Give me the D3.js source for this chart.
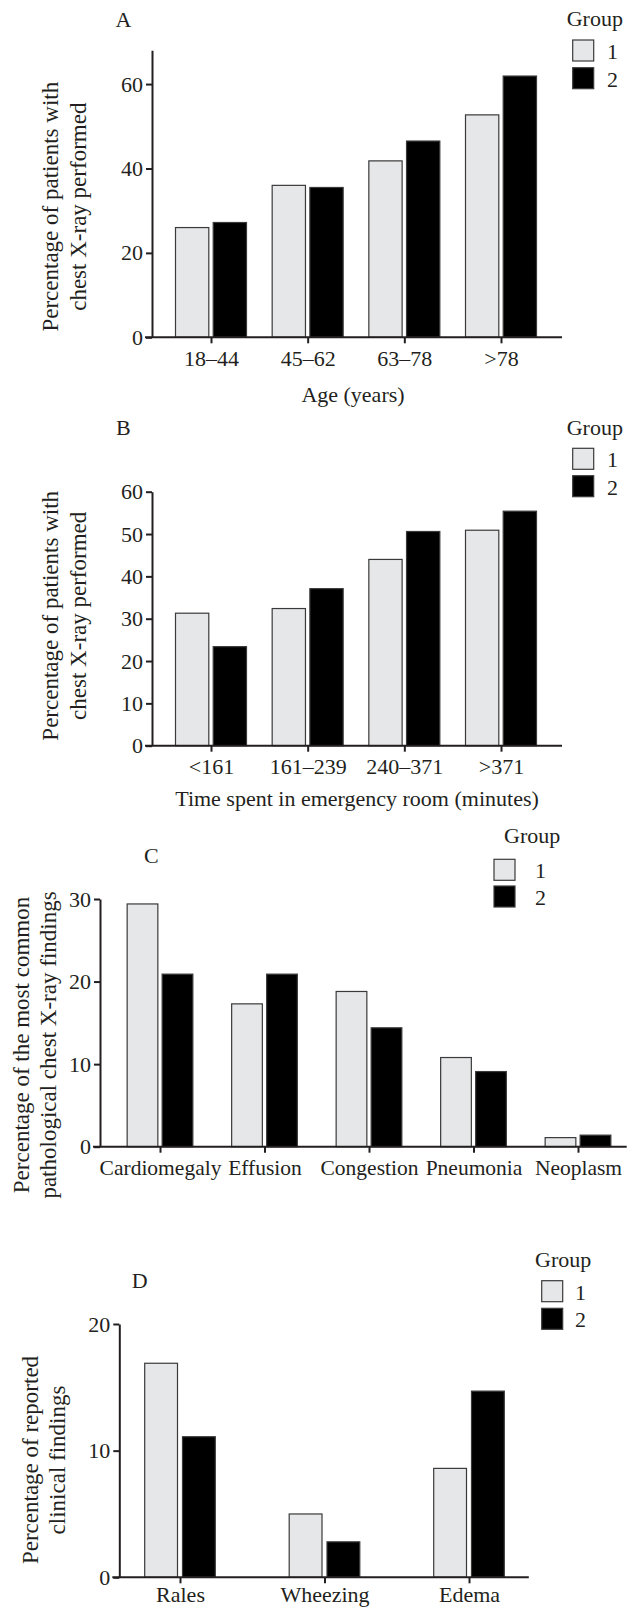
<!DOCTYPE html>
<html>
<head>
<meta charset="utf-8">
<script src="https://cdn.jsdelivr.net/npm/d3@7"></script>
<style>
  body { margin: 0; background: #fff; }
  svg text { font-family: "Liberation Serif", "Times New Roman", serif; fill: #231f20; }
</style>
</head>
<body>
<div id="chart"></div>
<script>
// Values
var groups = ["1", "2"];

var ageCategories = ["18–44", "45–62", "63–78", ">78"];
var ageGroup1 = [26.0, 36.0, 41.8, 52.7];
var ageGroup2 = [27.2, 35.5, 46.5, 61.9];
var ageTicks = [0, 20, 40, 60];

var timeCategories = ["<161", "161–239", "240–371", ">371"];
var timeGroup1 = [31.3, 32.4, 44.0, 50.9];
var timeGroup2 = [23.4, 37.1, 50.6, 55.4];
var timeTicks = [0, 10, 20, 30, 40, 50, 60];

var xrayCategories = ["Cardiomegaly", "Effusion", "Congestion", "Pneumonia", "Neoplasm"];
var xrayGroup1 = [29.4, 17.3, 18.8, 10.8, 1.1];
var xrayGroup2 = [20.9, 20.9, 14.4, 9.1, 1.4];
var xrayTicks = [0, 10, 20, 30];

var clinicalCategories = ["Rales", "Wheezing", "Edema"];
var clinicalGroup1 = [16.9, 5.0, 8.6];
var clinicalGroup2 = [11.1, 2.8, 14.7];
var clinicalTicks = [0, 10, 20];

var width = 644, height = 1608;

var color = d3.scaleOrdinal().domain(groups).range(["#e6e7e8", "#000000"]);

var svg = d3.select("#chart").append("svg")
    .attr("width", width)
    .attr("height", height)
    .style("display", "block");

var panels = [
  {
    letter: "A", cats: ageCategories, values: [ageGroup1, ageGroup2], ticks: ageTicks, yMax: 68,
    yTitle: ["Percentage of patients with", "chest X-ray performed"], xTitle: "Age (years)",
    axisX: 152, axisEnd: 562, baseY: 337.3, topY: 50.3, pointRange: [211, 501],
    barW: 33.3, barGap: 4.4, tickFont: 22, xPad: 7,
    letterPos: [115.5, 26.7],
    legend: {groupX: 566.7, groupY: 26, boxX: 572.7, boxY: 40, boxStep: 27.7, labelX: 607},
    yTitleX: [52, 80], yTitleY: 206.7, xTitlePos: [353, 401.7]
  },
  {
    letter: "B", cats: timeCategories, values: [timeGroup1, timeGroup2], ticks: timeTicks, yMax: 60,
    yTitle: ["Percentage of patients with", "chest X-ray performed"], xTitle: "Time spent in emergency room (minutes)",
    axisX: 152, axisEnd: 562, baseY: 745.7, topY: 491.7, pointRange: [211, 501],
    barW: 33.3, barGap: 4.4, tickFont: 22, xPad: 7,
    letterPos: [116, 435],
    legend: {groupX: 566.7, groupY: 435, boxX: 572.7, boxY: 448.3, boxStep: 27.4, labelX: 607},
    yTitleX: [52, 80], yTitleY: 615.8, xTitlePos: [357, 806]
  },
  {
    letter: "C", cats: xrayCategories, values: [xrayGroup1, xrayGroup2], ticks: xrayTicks, yMax: 30,
    yTitle: ["Percentage of the most common", "pathological chest X-ray findings"], xTitle: null,
    axisX: 100, axisEnd: 626.7, baseY: 1146.7, topY: 899, pointRange: [160, 578],
    barW: 30.7, barGap: 4.3, tickFont: 21.5, xPad: 7,
    letterPos: [144, 863.3],
    legend: {groupX: 504, groupY: 843.3, boxX: 494, boxY: 859.3, boxStep: 26.7, labelX: 535},
    yTitleX: [23, 50], yTitleY: 1045, xTitlePos: null
  },
  {
    letter: "D", cats: clinicalCategories, values: [clinicalGroup1, clinicalGroup2], ticks: clinicalTicks, yMax: 20,
    yTitle: ["Percentage of reported", "clinical findings"], xTitle: null,
    axisX: 119.3, axisEnd: 528.8, baseY: 1577.3, topY: 1324, pointRange: [180, 469],
    barW: 32.8, barGap: 5, tickFont: 22, xPad: 3,
    letterPos: [131.7, 1288.3],
    legend: {groupX: 535, groupY: 1266.7, boxX: 541.7, boxY: 1280.7, boxStep: 27.6, labelX: 575},
    yTitleX: [32, 59], yTitleY: 1460, xTitlePos: null
  }
];

function drawPanel(p) {
  var g = svg.append("g").attr("class", "panel-" + p.letter);

  var y = d3.scaleLinear().domain([0, p.yMax]).range([p.baseY, p.topY]);
  var x0 = d3.scalePoint().domain(p.cats).range(p.pointRange);
  var pair = 2 * p.barW + p.barGap;
  var x1 = d3.scaleBand()
    .domain(groups)
    .range([-pair / 2, pair / 2])
    .paddingInner(p.barGap / (p.barW + p.barGap));

  // one row per bar
  var rows = [];
  p.cats.forEach(function(c, i) {
    groups.forEach(function(gr, j) {
      rows.push({cat: c, group: gr, value: p.values[j][i]});
    });
  });

  // Bars
  g.selectAll("rect.bar")
    .data(rows)
    .enter().append("rect")
      .attr("class", "bar")
      .attr("x", function(d) { return x0(d.cat) + x1(d.group); })
      .attr("y", function(d) { return y(d.value); })
      .attr("width", x1.bandwidth())
      .attr("height", function(d) { return y(0) - y(d.value); })
      .attr("fill", function(d) { return color(d.group); })
      .attr("stroke", "#3a3a3a")
      .attr("stroke-width", 1.2);

  // Y axis
  var yAxis = g.append("g")
    .attr("transform", "translate(" + p.axisX + ",0)")
    .call(d3.axisLeft(y).tickValues(p.ticks).tickSize(6).tickPadding(3).tickSizeOuter(0));
  yAxis.attr("font-family", null).attr("font-size", null);
  yAxis.selectAll("path, line").attr("stroke", "#231f20").attr("stroke-width", 2);
  yAxis.selectAll("text").style("font-size", "22px");

  // X axis (line drawn across the full width, like the original)
  var xAxis = g.append("g")
    .attr("transform", "translate(0," + p.baseY + ")")
    .call(d3.axisBottom(x0).tickSize(6).tickPadding(p.xPad));
  xAxis.attr("font-family", null).attr("font-size", null);
  xAxis.select(".domain").remove();
  xAxis.selectAll("line").attr("stroke", "#231f20").attr("stroke-width", 2);
  xAxis.selectAll("text").style("font-size", p.tickFont + "px");
  xAxis.append("line")
    .attr("x1", p.axisX - 7).attr("x2", p.axisEnd)
    .attr("y1", 0).attr("y2", 0)
    .attr("stroke", "#231f20").attr("stroke-width", 2);

  // Y axis title
  var yt = g.append("text")
    .attr("transform", "translate(0," + p.yTitleY + ") rotate(-90)")
    .attr("text-anchor", "middle")
    .style("font-size", "23px");
  p.yTitle.forEach(function(line, i) {
    yt.append("tspan")
      .attr("x", 0)
      .attr("y", p.yTitleX[i])
      .attr("dy", "0.25em")
      .text(line);
  });

  // X axis title
  if (p.xTitle) {
    g.append("text")
      .attr("x", p.xTitlePos[0])
      .attr("y", p.xTitlePos[1])
      .attr("text-anchor", "middle")
      .style("font-size", "22px")
      .text(p.xTitle);
  }

  // Panel letter
  g.append("text")
    .attr("x", p.letterPos[0])
    .attr("y", p.letterPos[1])
    .style("font-size", "22px")
    .text(p.letter);

  // Legend
  var L = p.legend;
  var leg = g.append("g");
  leg.append("text")
    .attr("x", L.groupX)
    .attr("y", L.groupY)
    .style("font-size", "22px")
    .text("Group");
  groups.forEach(function(gr, i) {
    leg.append("rect")
      .attr("x", L.boxX)
      .attr("y", L.boxY + i * L.boxStep)
      .attr("width", 21)
      .attr("height", 21)
      .attr("fill", color(gr))
      .attr("stroke", "#3a3a3a")
      .attr("stroke-width", 1.2);
    leg.append("text")
      .attr("x", L.labelX)
      .attr("y", L.boxY + i * L.boxStep + 19)
      .style("font-size", "22px")
      .text(gr);
  });
}

panels.forEach(drawPanel);
</script>
</body>
</html>
